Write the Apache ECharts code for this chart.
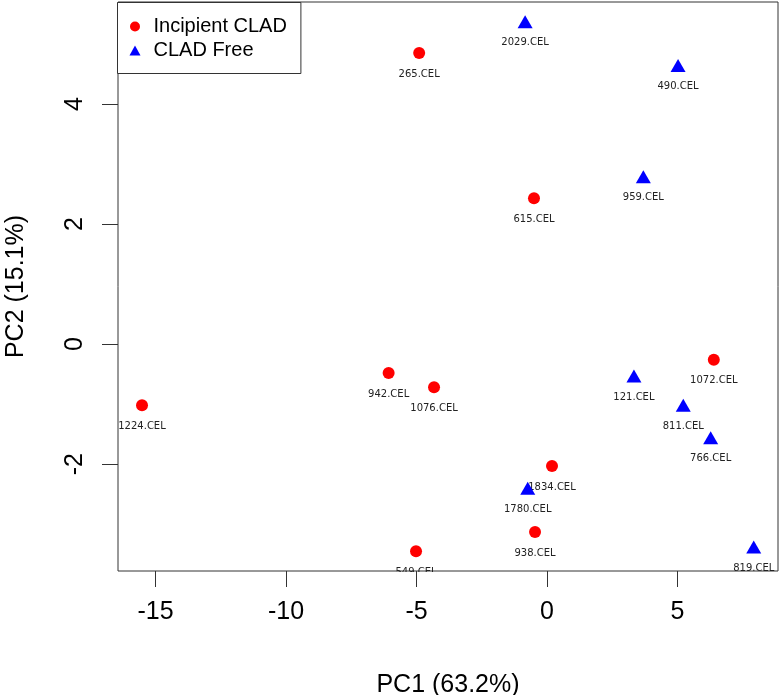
<!DOCTYPE html>
<html>
<head>
<meta charset="utf-8">
<script src="https://cdn.jsdelivr.net/npm/echarts@6/dist/echarts.min.js"></script>
<style>
html,body{margin:0;padding:0;background:#fff;}
#chart{width:781px;height:695px;}
</style>
</head>
<body>
<div id="chart"></div>
<script>
// Incipient CLAD (red circles)
var redNames = ['265.CEL','615.CEL','942.CEL','1076.CEL','1224.CEL','1072.CEL','1834.CEL','938.CEL','549.CEL'];
var redX = [-4.90, -0.50, -6.07, -4.33, -15.52, 6.39, 0.19, -0.46, -5.02];
var redY = [4.85, 2.43, -0.48, -0.72, -1.02, -0.26, -2.03, -3.13, -3.45];
// CLAD Free (blue triangles)
var blueNames = ['2029.CEL','490.CEL','959.CEL','121.CEL','811.CEL','766.CEL','1780.CEL','819.CEL'];
var blueX = [-0.84, 5.02, 3.69, 3.33, 5.22, 6.27, -0.74, 7.92];
var blueY = [5.37, 4.64, 2.79, -0.53, -1.02, -1.56, -2.40, -3.38];
// axis ticks
var xTicks = [-15, -10, -5, 0, 5];
var yTicks = [-2, 0, 2, 4];
var xTitle = 'PC1 (63.2%)';
var yTitle = 'PC2 (15.1%)';
var seriesNames = ['Incipient CLAD', 'CLAD Free'];

function build(xs, ys, names) {
  return xs.map(function (x, i) { return { value: [x, ys[i]], name: names[i] }; });
}

var FONT = 'Liberation Sans, Arial, sans-serif';
var chart = echarts.init(document.getElementById('chart'), null, { renderer: 'canvas' });

var labelCfg = {
  show: true,
  position: 'inside',
  offset: [0, 21],
  formatter: function (p) { return p.name; },
  color: '#222',
  fontSize: 10,
  fontFamily: 'DejaVu Sans, sans-serif'
};

chart.setOption({
  animation: false,
  backgroundColor: '#fff',
  grid: {
    left: 118, right: 3, top: 2, bottom: 124,
    outerBoundsMode: 'none', containLabel: false,
    show: true, borderColor: '#333', borderWidth: 1, backgroundColor: 'transparent'
  },
  legend: {
    left: 117.5, top: 2.5,
    orient: 'vertical',
    z: 10,
    backgroundColor: '#fff',
    borderColor: '#333', borderWidth: 1, borderRadius: 0,
    padding: [14, 14, 13, 12],
    itemGap: 4,
    itemWidth: 11, itemHeight: 10,
    textStyle: { fontSize: 20, fontFamily: FONT, color: '#000', lineHeight: 20, padding: [0, 0, 0, 8] },
    data: [
      { name: seriesNames[0], icon: 'circle' },
      { name: seriesNames[1], icon: 'triangle' }
    ]
  },
  xAxis: {
    type: 'value', min: -16.44, max: 8.85, z: 10,
    name: xTitle, nameLocation: 'middle', nameGap: 102,
    nameTextStyle: { fontSize: 25, fontFamily: FONT, color: '#000' },
    axisLine: { show: false, onZero: false },
    splitLine: { show: false },
    axisTick: { show: true, length: 16, customValues: xTicks, lineStyle: { color: '#333' } },
    axisLabel: { customValues: xTicks, fontSize: 25, fontFamily: FONT, color: '#000', margin: 29 }
  },
  yAxis: {
    type: 'value', min: -3.78, max: 5.70, z: 10,
    name: yTitle, nameLocation: 'middle', nameGap: 89, nameRotate: 90,
    nameTextStyle: { fontSize: 25, fontFamily: FONT, color: '#000' },
    axisLine: { show: false, onZero: false },
    splitLine: { show: false },
    axisTick: { show: true, length: 16, customValues: yTicks, lineStyle: { color: '#333' } },
    axisLabel: { customValues: yTicks, rotate: 90, fontSize: 25, fontFamily: FONT, color: '#000', margin: 30 }
  },
  graphic: [
    { type: 'rect', z: 5, silent: true, shape: { x: 0, y: 572, width: 781, height: 123 }, style: { fill: '#fff' } },
    { type: 'rect', z: 5, silent: true, shape: { x: 0, y: 0, width: 117, height: 695 }, style: { fill: '#fff' } }
  ],
  series: [
    {
      name: seriesNames[0], type: 'scatter', z: 2,
      symbol: 'circle', symbolSize: 12,
      itemStyle: { color: '#ff0000', opacity: 1 },
      label: labelCfg,
      data: build(redX, redY, redNames)
    },
    {
      name: seriesNames[1], type: 'scatter', z: 3,
      symbol: 'triangle', symbolSize: [15, 13],
      itemStyle: { color: '#0000ff', opacity: 1 },
      label: labelCfg,
      data: build(blueX, blueY, blueNames)
    }
  ]
});
</script>
</body>
</html>
